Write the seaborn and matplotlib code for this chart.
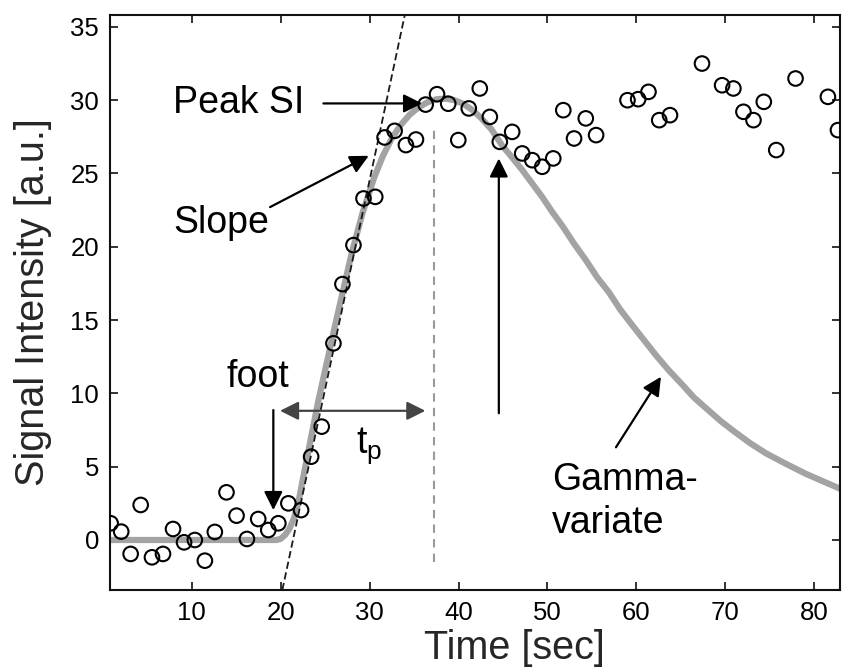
import numpy as np
import pandas as pd
import seaborn as sns
import matplotlib.pyplot as plt

time_sec = [0.87, 2.06, 3.12, 4.25, 5.52, 6.76, 7.89, 9.13, 10.34, 11.47, 12.59, 13.90,
            15.03, 16.20, 17.47, 18.60, 19.73, 20.86, 22.29, 23.42, 24.61, 25.93, 26.94,
            28.18, 29.31, 30.63, 31.68, 32.81, 34.08, 35.21, 36.30, 37.58, 38.84, 39.97,
            41.15, 42.39, 43.52, 44.64, 46.03, 47.16, 48.29, 49.41, 50.65, 51.78, 52.99,
            54.31, 55.47, 59.00, 60.20, 61.36, 62.57, 63.78, 67.38, 69.64, 70.91, 72.04,
            73.17, 74.33, 75.73, 77.90, 81.54, 82.67]
signal = [1.14, 0.57, -0.95, 2.39, -1.18, -0.95, 0.75, -0.16, 0.0, -1.41, 0.55, 3.25,
          1.66, 0.07, 1.43, 0.68, 1.14, 2.50, 2.04, 5.68, 7.73, 13.41, 17.45,
          20.11, 23.29, 23.40, 27.45, 27.90, 26.93, 27.31, 29.69, 30.40, 29.75, 27.27,
          29.43, 30.79, 28.85, 27.15, 27.83, 26.36, 25.90, 25.45, 26.02, 29.31, 27.38,
          28.75, 27.61, 29.99, 30.06, 30.56, 28.63, 28.97, 32.49, 31.01, 30.79, 29.20,
          28.63, 29.88, 26.59, 31.47, 30.22, 27.95]

# Gamma-variate fit
fit_time = [0.8, 19.5, 20.0, 20.5, 21.0, 21.5, 22.0, 22.7, 24.2, 26.1, 28.0, 29.2, 30.5,
            31.5, 32.5, 33.5, 34.5, 35.5, 36.5, 37.5, 38.5, 39.5, 40.5, 41.5, 42.5, 43.7,
            44.9, 46.0, 47.2, 48.3, 49.4, 50.5, 51.7, 53.0, 54.3, 55.6, 56.9, 58.2, 59.6,
            60.9, 62.2, 63.6, 65.0, 66.5, 68.0, 69.5, 71.0, 72.8, 74.6, 76.8, 79.1, 81.0,
            82.9]
fit_signal = [0.0, 0.0, 0.08, 0.35, 0.8, 1.5, 2.6, 4.8, 9.4, 14.6, 19.6, 22.3, 24.7,
              26.2, 27.4, 28.3, 29.0, 29.5, 29.85, 30.05, 30.1, 30.0, 29.75, 29.35, 28.8, 28.0,
              26.9, 26.1, 25.2, 24.3, 23.4, 22.4, 21.4, 20.2, 19.1, 17.9, 16.9, 15.7, 14.6,
              13.6, 12.6, 11.6, 10.7, 9.7, 8.9, 8.1, 7.4, 6.6, 5.9, 5.2, 4.5, 4.0,
              3.5]

# Maximum upslope tangent
slope_time = [20.18, 33.95]
slope_signal = [-3.41, 35.79]

# Time to peak marker
peak_time = [37.2, 37.2]
peak_signal = [-1.5, 27.95]

x_ticks = [10, 20, 30, 40, 50, 60, 70, 80]
y_ticks = [0, 5, 10, 15, 20, 25, 30, 35]

sns.set_theme(style='ticks')
plt.rcParams['font.family'] = ['Liberation Sans', 'DejaVu Sans']
plt.rcParams['mathtext.default'] = 'regular'

fig = plt.figure(figsize=(8.42, 6.72), dpi=100)
ax = fig.add_axes([110 / 842, 82 / 672, 730 / 842, 575 / 672])

fitDf = pd.DataFrame({'Time': fit_time, 'Signal': fit_signal})
sns.lineplot(data=fitDf, x='Time', y='Signal', color='#a3a3a3', lw=4.5, sort=False, ax=ax)
ax.plot(slope_time, slope_signal, color='k', ls=(0, (4, 2)), lw=1.3)
ax.plot(peak_time, peak_signal, color='#999999', ls=(0, (4, 3)), lw=1.5)

sampleDf = pd.DataFrame({'Time': time_sec, 'Signal': signal})
sns.scatterplot(data=sampleDf, x='Time', y='Signal', marker='o', s=110,
                facecolor='none', edgecolor='black', linewidth=1.5, zorder=5, ax=ax)

ax.set_xlim(0.8, 82.9)
ax.set_ylim(-3.41, 35.8)
ax.set_xticks(x_ticks)
ax.set_yticks(y_ticks)
ax.tick_params(direction='in', top=True, right=True, length=6, width=1.2,
               labelsize=18.5, pad=8, colors='#111111')
ax.tick_params(labelcolor='black')
for s in ax.spines.values():
    s.set_linewidth(1.5)
    s.set_color('#111111')
ax.set_xlabel('')
ax.set_ylabel('')

fig.text(514 / 842, 1 - 648 / 672, 'Time [sec]', ha='center', va='center', fontsize=28.5)
fig.text(33 / 842, 1 - 302 / 672, 'Signal Intensity [a.u.]', ha='center', va='center',
         rotation=90, fontsize=28.5)

arrow = dict(arrowstyle='-|>', color='black', lw=1.6, mutation_scale=28,
             shrinkA=0, shrinkB=0)
txt = dict(fontsize=27, color='black')

ax.annotate('', xy=(35.9, 29.77), xytext=(24.8, 29.77), arrowprops=arrow)
ax.text(7.9, 29.77, 'Peak SI', va='center', ha='left', **txt)

ax.annotate('', xy=(29.9, 26.2), xytext=(18.8, 22.7), arrowprops=arrow)
ax.text(7.9, 21.6, 'Slope', va='center', ha='left', **txt)

ax.annotate('', xy=(19.17, 2.04), xytext=(19.17, 8.86), arrowprops=arrow)
ax.text(13.9, 11.1, 'foot', va='center', ha='left', **txt)

ax.annotate('', xy=(36.27, 8.81), xytext=(19.92, 8.81),
            arrowprops=dict(arrowstyle='<|-|>', color='#444444', lw=1.6,
                            mutation_scale=28, shrinkA=0, shrinkB=0))
ax.text(30.0, 6.4, 't$_p$', va='center', ha='center', **txt)

ax.annotate('', xy=(44.53, 26.02), xytext=(44.53, 8.64), arrowprops=arrow)

ax.annotate('', xy=(62.76, 11.13), xytext=(57.7, 6.32), arrowprops=arrow)
ax.text(50.5, 2.6, 'Gamma-\nvariate', va='center', ha='left', linespacing=1.25, **txt)

plt.savefig('out.png', dpi=100)
plt.close()
